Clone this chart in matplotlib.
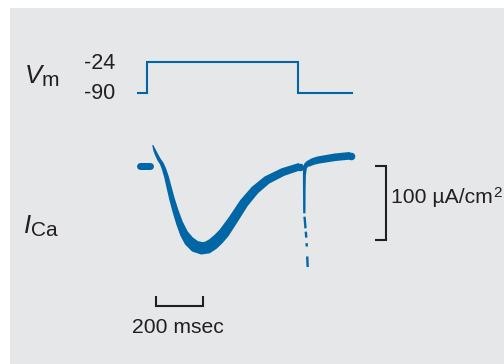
import numpy as np
import matplotlib
matplotlib.use("Agg")
import matplotlib.pyplot as plt
from matplotlib.patches import Rectangle, Polygon
from matplotlib.transforms import IdentityTransform

plt.rcParams["lines.scale_dashes"] = False

# ---- data -----------------------------------------------------------------
# Voltage-clamp command (ms, mV), drawn as a step trace
vm_time = [-36, 0, 650, 882]
vm_level = [-90, -24, -90, -90]

# Holding current before the step (ms, uA/cm2)
hold_time = [-30, 16]
hold_current = [0, 0]

# Inward Ca2+ current during the depolarising step
ica_time = [25.8, 33.5, 42.9, 52.8, 64.4, 74.2, 85.0, 95.7, 108.6, 123.6,
            140.8, 160.1, 181.5, 207.3, 236.1, 260.9, 284.5, 308.2, 331.8,
            370.4, 417.6, 464.8, 516.3, 585.0, 658.0]
ica_current = [27.7, 20.9, 14.2, 8.1, 2.7, -4.7, -15.5, -29.1, -45.3, -61.5,
               -77.7, -91.9, -102.0, -109.2, -111.9, -110.8, -106.1, -99.3,
               -91.2, -73.6, -50.7, -33.1, -19.6, -8.8, -1.4]
# trace thickness (noise band), px
ica_band = [1.0, 2.6, 3.3, 3.6, 3.9, 4.3, 4.7, 5.1, 5.6, 6.2,
            7.0, 8.5, 10.5, 12.0, 12.5, 12.5, 12.0, 11.5, 11.0,
            10.0, 9.5, 9.0, 8.5, 8.0, 7.5]

# Tail current after repolarisation
tail_time = [676.4, 676.4, 676.8, 679.4, 685.0, 693.6, 713.7, 736.5, 808.2, 874.7]
tail_current = [-64.6, -33.1, -12.8, -3.4, 0.7, 2.3, 5.4, 7.4, 11.1, 13.2]
tail_band = [2.3, 2.6, 3.0, 3.8, 5.0, 6.2, 6.9, 7.3, 7.6, 7.6]

# Faint tip of the tail spike
tip_time = [677.3, 683.7, 686.7, 691.0]
tip_current = [-69.2, -92.6, -107.4, -137.6]

# Scale bars
bar_time = 200      # ms
bar_current = 100   # uA/cm2

# ---- layout ---------------------------------------------------------------
W, H = 504, 364
BLUE = "#0066a6"
INK = "#231f20"
FONT = "Liberation Sans"

fig = plt.figure(figsize=(W / 100, H / 100), dpi=100, facecolor="white")
fig.patches.append(Rectangle((10 / W, 0), 1, 356 / H, transform=fig.transFigure,
                             facecolor="#e6e7e8", edgecolor="none", zorder=-5))

# pixel anchors -> axis limits
x0, ms_px = 146.7, 0.233
y0_i, ua_px = 165.5, 0.74
y0_v, mv_px = 92.7, 0.4697
xlim = (-x0 / ms_px, (W - x0) / ms_px)

ax_i = fig.add_axes([0, 0, 1, 1])
ax_i.set_xlim(*xlim)
ax_i.set_ylim((y0_i - H) / ua_px, y0_i / ua_px)
ax_v = fig.add_axes([0, 0, 1, 1])
ax_v.set_xlim(*xlim)
ax_v.set_ylim(-90 - (H - y0_v) / mv_px, -90 + y0_v / mv_px)
for a in (ax_i, ax_v):
    a.axis("off")
    a.patch.set_visible(False)

# command voltage
ax_v.plot(vm_time, vm_level, drawstyle="steps-post", color=BLUE, lw=1.5,
          solid_joinstyle="miter")


def band_trace(ax, t, c, w, cap_start=False, cap_end=True):
    """Current trace of varying thickness, offset along the local normal."""
    pts = ax.transData.transform(np.column_stack([t, c]))
    d = np.gradient(pts, axis=0)
    d /= np.hypot(d[:, 0], d[:, 1])[:, None]
    nrm = np.column_stack([-d[:, 1], d[:, 0]])
    half = np.asarray(w, float)[:, None] / 2 * fig.dpi / 100
    outline = np.vstack([pts + nrm * half, (pts - nrm * half)[::-1]])
    ax.add_patch(Polygon(outline, closed=True, transform=IdentityTransform(),
                         facecolor=BLUE, edgecolor="none"))
    for k, on in ((0, cap_start), (-1, cap_end)):
        if on:
            ax.plot([t[k]], [c[k]], "o", ms=w[k] * 0.72, color=BLUE, mec="none")


ax_i.plot(hold_time, hold_current, color=BLUE, lw=7 * 0.72,
          solid_capstyle="round")
band_trace(ax_i, ica_time, ica_current, ica_band)
band_trace(ax_i, tail_time, tail_current, tail_band)
ax_i.plot(tip_time, tip_current, color=BLUE, lw=1.7, dash_capstyle="butt",
          dashes=[8.4, 2.4, 4.3, 4.0, 2.4, 7.2, 7.6, 10])

# scale bars
tb0, tb_y, tick_i = 40, -190, 13.5
ax_i.plot([tb0, tb0, tb0 + bar_time, tb0 + bar_time],
          [tb_y + tick_i, tb_y, tb_y, tb_y + tick_i],
          color=INK, lw=1.5, solid_joinstyle="miter", solid_capstyle="butt")
vb_t, tick_t = 1027, 47
ax_i.plot([vb_t - tick_t, vb_t, vb_t, vb_t - tick_t],
          [0, 0, -bar_current, -bar_current],
          color=INK, lw=1.5, solid_joinstyle="miter", solid_capstyle="butt")


def label(x, y, s, size, style="normal", ha="left"):
    return fig.text(x / W, 1 - y / H, s, fontsize=size, family=FONT,
                    style=style, color=INK, ha=ha, va="baseline")


label(25, 83.3, "V", 18.5, "italic")
label(42, 86.5, "m", 15)
label(115.5, 69, "-24", 15.5, ha="right")
label(115.5, 99.5, "-90", 15.5, ha="right")
label(23.5, 233.3, "I", 18.5, "italic")
label(31, 236, "Ca", 15)
label(178, 333.3, f"{bar_time} msec", 15.2, ha="center")
unit = label(391, 203.3, f"{bar_current} µA/cm", 15.2)
fig.canvas.draw()
ext = unit.get_window_extent()
fig.text(ext.x1 / W + 0.5 / W, 1 - 197.5 / H, "2", fontsize=11, family=FONT,
         color=INK, ha="left", va="baseline")

fig.savefig("out.png", dpi=100, facecolor="white")
